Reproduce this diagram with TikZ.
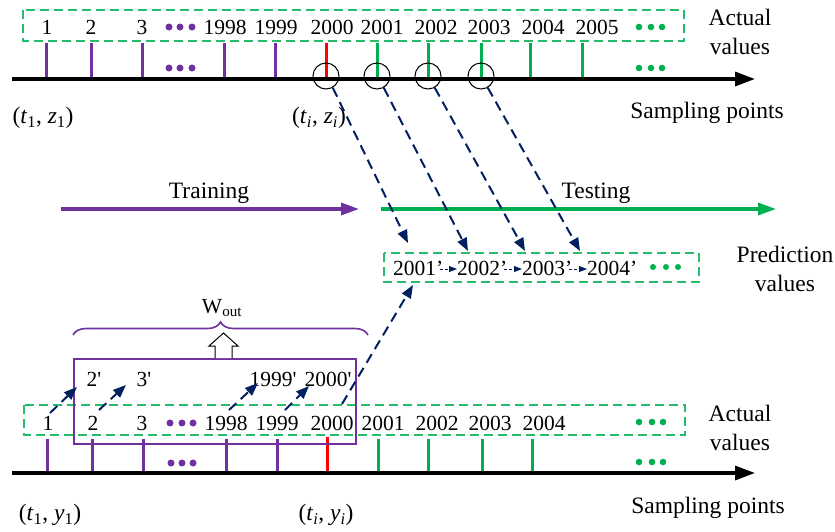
\documentclass[tikz,border=0pt]{standalone}
\usepackage{fontspec}
\setmainfont{Liberation Serif}
\usetikzlibrary{arrows.meta,decorations.pathreplacing,calc}
\definecolor{purp}{HTML}{7030A0}
\definecolor{grn}{HTML}{00B050}
\definecolor{navy}{HTML}{002060}
\definecolor{redt}{HTML}{FF0000}
\begin{document}
\begin{tikzpicture}[x=1pt,y=-1pt,
  num/.style={font=\fontsize{21.5}{24}\selectfont, inner sep=0pt},
  wrd/.style={font=\fontsize{23.5}{29}\selectfont, inner sep=0pt, align=center},
  pttick/.style={purp, line width=3pt},
  gntick/.style={grn, line width=3pt},
  rdtick/.style={redt, line width=3pt},
  axisline/.style={line width=3.3pt, -{Triangle[length=20pt,width=14pt]}},
  gbox/.style={draw=grn!85, line width=1.6pt, dash pattern=on 9pt off 5pt},
  navydash/.style={navy, line width=2pt, dash pattern=on 10pt off 6pt, -{Triangle[length=13pt,width=10pt]}},
  navythin/.style={navy, line width=0.8pt, dash pattern=on 3pt off 2pt, -{Triangle[length=8pt,width=6pt]}},
  ring/.style={circle, draw, line width=1pt, minimum size=26pt, inner sep=0pt},
  pdot/.style={fill=purp},
  gdot/.style={fill=grn},
]
\useasboundingbox (0,0) rectangle (835,531);

% ---------------- upper time line ----------------
\draw[gbox] (23,10) rectangle (684,41);
\foreach \t/\x in {1/47,2/91,3/142,1998/225,1999/276,2000/332,2001/382,2002/436,2003/489,2004/543,2005/597}
  \node[num] (u\t) at (\x,27) {\t};
\foreach \x in {169,180,192} \fill[pdot] (\x,27) circle (3.5pt);
\foreach \x in {639,651,662} \fill[gdot] (\x,27) circle (3.3pt);
\foreach \x in {46,91,142,224,275} \draw[pttick] (\x,43) -- (\x,79);
\draw[rdtick] (326,43) -- (326,79);
\foreach \x in {377,428,481,530,582} \draw[gntick] (\x,43) -- (\x,79);
\foreach \x in {169,180,192} \fill[pdot] (\x,68) circle (3.5pt);
\foreach \x in {639,651,662} \fill[gdot] (\x,68) circle (3.3pt);
\coordinate (ua0) at (12,79);
\coordinate (ua1) at (755,79);
\draw[axisline] (ua0) -- (ua1);
\node[wrd] (uact) at (740,32) {Actual\\values};
\node[wrd] (usamp) at (707,113) {Sampling points};
\node[wrd] (ut1) at (43,118) {(\textit{t}\textsubscript{1}, \textit{z}\textsubscript{1})};
\node[wrd] (uti) at (319,118) {(\textit{t}\textsubscript{\textit{i}}, \textit{z}\textsubscript{\textit{i}})};
\node[ring] (c2000) at (326,76) {};
\node[ring] (c2001) at (377,76) {};
\node[ring] (c2002) at (428,76) {};
\node[ring] (c2003) at (481,76) {};

% ---------------- training / testing ----------------
\coordinate (tr0) at (61,209);
\coordinate (tr1) at (359,209);
\coordinate (te0) at (381,209);
\coordinate (te1) at (776,209);
\draw[purp, line width=3.3pt, -{Triangle[length=18pt,width=12pt]}] (tr0) -- (tr1);
\draw[grn, line width=3.3pt, -{Triangle[length=18pt,width=12pt]}] (te0) -- (te1);
\node[wrd] (train) at (209,193) {Training};
\node[wrd] (test) at (596,193) {Testing};

% ---------------- prediction values ----------------
\draw[gbox] (384,253) rectangle (699,282);
\node[num, anchor=west] (p2001) at (393,268) {2001’};
\node[num, anchor=west] (p2002) at (457,268) {2002’};
\node[num, anchor=west] (p2003) at (522,268) {2003’};
\node[num, anchor=west] (p2004) at (587,268) {2004’};
\foreach \x in {653,666,678} \fill[gdot] (\x,267) circle (3pt);
\node[wrd] (pval) at (785,269) {Prediction\\values};
\draw[navythin] ($(p2001.east)+(-4,1)$) -- ($(p2002.west)+(0,1)$);
\draw[navythin] ($(p2002.east)+(-4,1)$) -- ($(p2003.west)+(0,1)$);
\draw[navythin] ($(p2003.east)+(-4,1)$) -- ($(p2004.west)+(0,1)$);

% links from the upper time line to the predictions
\coordinate (e2001) at (408,243);
\coordinate (e2002) at (468,251);
\coordinate (e2003) at (525,251);
\coordinate (e2004) at (580,251);
\draw[navydash] (c2000.-60) -- (e2001);
\draw[navydash] (c2001.-60) -- (e2002);
\draw[navydash] (c2002.-60) -- (e2003);
\draw[navydash] (c2003.-60) -- (e2004);

% ---------------- lower time line ----------------
\draw[gbox] (24,405) rectangle (685,435);
\foreach \t/\x in {1/48,2/93,3/142,1998/226,1999/277,2000/332,2001/383,2002/437,2003/490,2004/544}
  \node[num] (b\t) at (\x,423) {\t};
\foreach \x in {170,182,193} \fill[pdot] (\x,423) circle (3.5pt);
\foreach \x in {639,652,663} \fill[gdot] (\x,422) circle (3.3pt);
\foreach \x in {47,92,143,226,277} \draw[pttick] (\x,439) -- (\x,473);
\draw[rdtick] (327,437) -- (327,473);
\foreach \x in {378,428,482,532} \draw[gntick] (\x,439) -- (\x,473);
\foreach \x in {171,182,193} \fill[pdot] (\x,463) circle (3.5pt);
\foreach \x in {639,652,663} \fill[gdot] (\x,462) circle (3.3pt);
\coordinate (ba0) at (12,473);
\coordinate (ba1) at (755,473);
\draw[axisline] (ba0) -- (ba1);
\node[wrd] (bact) at (740,428) {Actual\\values};
\node[wrd] (bsamp) at (708,508) {Sampling points};
\node[wrd] (bt1) at (50,515) {(\textit{t}\textsubscript{1}, \textit{y}\textsubscript{1})};
\node[wrd] (bti) at (326,515) {(\textit{t}\textsubscript{\textit{i}}, \textit{y}\textsubscript{\textit{i}})};

% training window
\draw[purp, line width=1.6pt] (74,359) rectangle (356,444);
\node[num] (q2) at (94,379) {2\textquotesingle};
\node[num] (q3) at (144,379) {3\textquotesingle};
\node[num] (q1999) at (273,379) {1999\textquotesingle};
\node[num] (q2000) at (328,379) {2000\textquotesingle};
\coordinate (s1) at (50,413);   \coordinate (t1e) at (77,387);
\coordinate (s2) at (99,410);   \coordinate (t2e) at (126,385);
\coordinate (s3) at (229,410);  \coordinate (t3e) at (258,383);
\coordinate (s4) at (285,410);  \coordinate (t4e) at (309,386);
\draw[navydash] (s1) -- (t1e);
\draw[navydash] (s2) -- (t2e);
\draw[navydash] (s3) -- (t3e);
\draw[navydash] (s4) -- (t4e);
\coordinate (s5) at (342,404);
\coordinate (t5e) at (413,285);
\draw[navydash] (s5) -- (t5e);

% output weights
\draw[line width=1pt, fill=white] (215,358) -- (215,346) -- (209,346) -- (223.5,333) -- (238,346) -- (232,346) -- (232,358);
\draw[purp, line width=1.6pt, decorate, decoration={brace, amplitude=13pt}] (73,335) -- (368,335);
\node[num] (wout) at (222,308) {W\textsubscript{out}};
\end{tikzpicture}
\end{document}
